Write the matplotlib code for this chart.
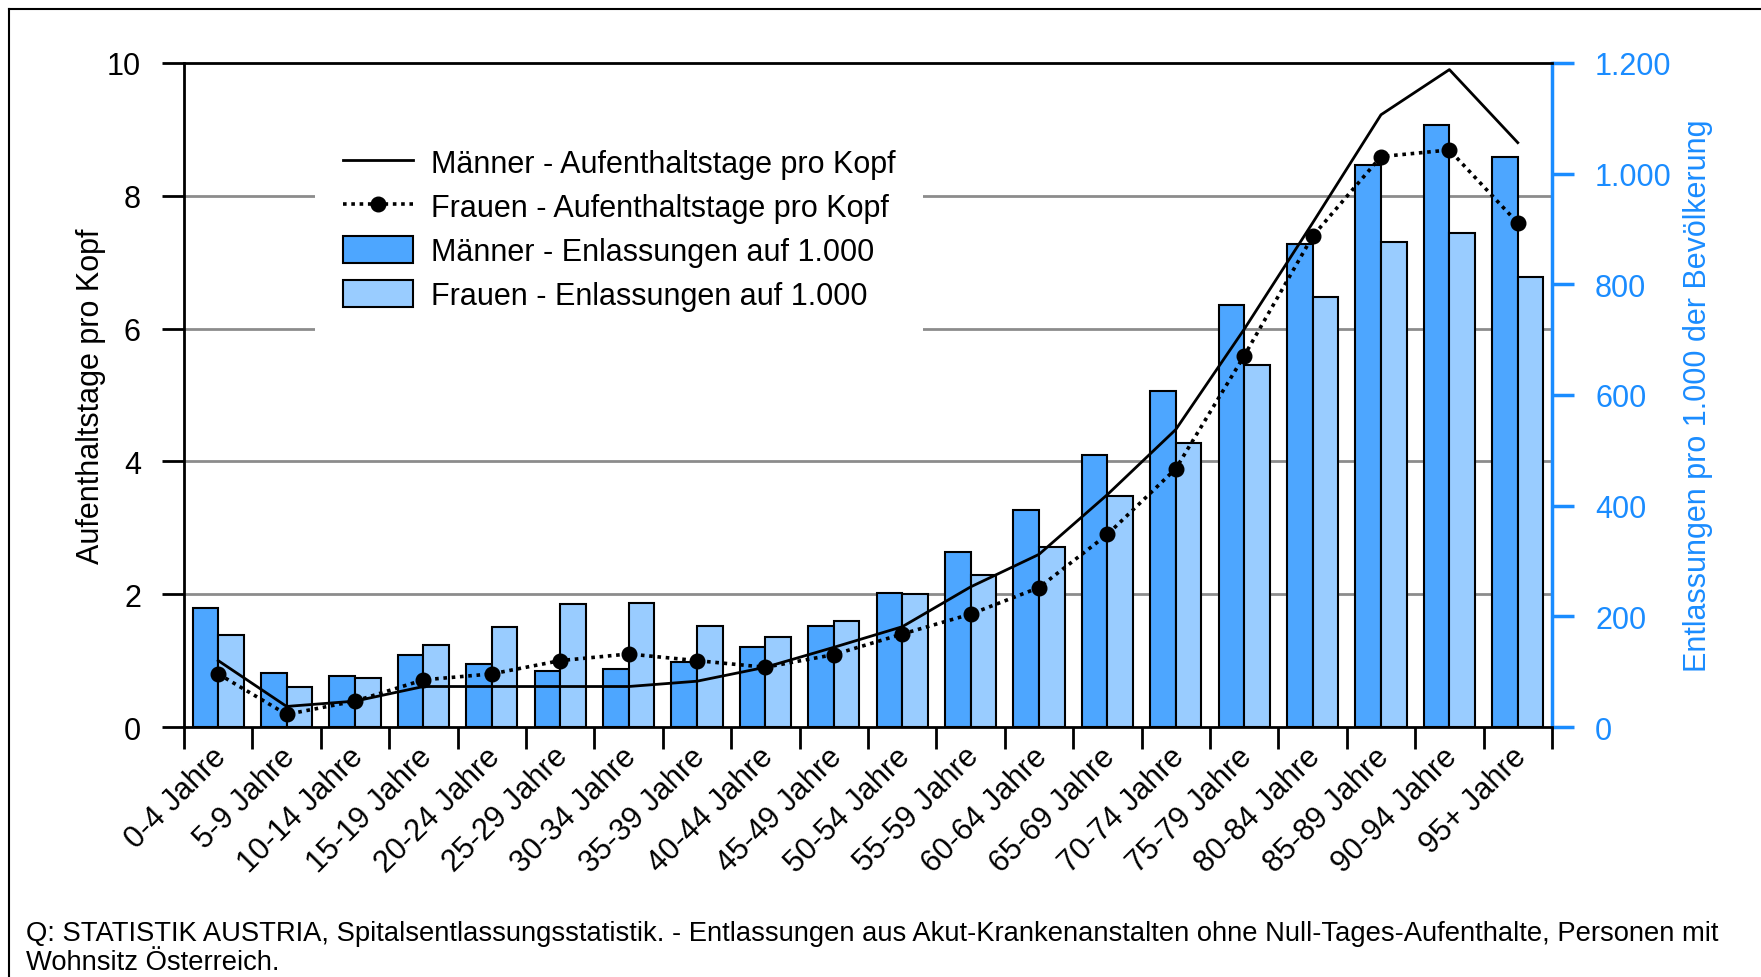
import numpy as np
import matplotlib
matplotlib.use("Agg")
import matplotlib.pyplot as plt
from matplotlib.lines import Line2D
from matplotlib.ticker import FuncFormatter
from matplotlib.transforms import ScaledTranslation

plt.rcParams['font.family'] = ['Liberation Sans', 'DejaVu Sans']

# data
ages = ['0-4 Jahre', '5-9 Jahre', '10-14 Jahre', '15-19 Jahre', '20-24 Jahre',
        '25-29 Jahre', '30-34 Jahre', '35-39 Jahre', '40-44 Jahre', '45-49 Jahre',
        '50-54 Jahre', '55-59 Jahre', '60-64 Jahre', '65-69 Jahre', '70-74 Jahre',
        '75-79 Jahre', '80-84 Jahre', '85-89 Jahre', '90-94 Jahre', '95+ Jahre']
men_rate = [215, 97, 93, 131, 114, 102, 105, 118, 145, 183,
            242, 316, 393, 492, 607, 762, 872, 1015, 1088, 1030]
women_rate = [166, 73, 88, 148, 180, 222, 225, 182, 163, 191,
              240, 274, 325, 418, 514, 655, 777, 877, 892, 814]
men_days = [1.00, 0.31, 0.39, 0.61, 0.61, 0.61, 0.61, 0.69, 0.90, 1.20,
            1.51, 2.11, 2.60, 3.50, 4.48, 5.99, 7.59, 9.22, 9.90, 8.80]
women_days = [0.80, 0.19, 0.39, 0.71, 0.80, 1.00, 1.10, 1.00, 0.90, 1.09,
              1.40, 1.70, 2.10, 2.90, 3.89, 5.59, 7.39, 8.59, 8.69, 7.59]

left_max = 10
right_max = 1200
left_ticks = [0, 2, 4, 6, 8, 10]
right_ticks = [0, 200, 400, 600, 800, 1000, 1200]

blue = '#1a8cff'
men_col = '#4da6ff'
women_col = '#99ccff'
fs = 22

fig = plt.figure(figsize=(17.61, 9.78), dpi=100)
ax = fig.add_axes([0.1045, 0.2556, 0.7768, 0.679])
ax2 = ax.twinx()
ax.set_zorder(ax2.get_zorder() + 1)
ax.patch.set_visible(False)

x = np.arange(len(ages))
w = 0.375

# gridlines behind the bars (drawn on the right axis at the left tick values)
for t in left_ticks[1:-1]:
    ax2.axhline(t * right_max / left_max, color='#8c8c8c', lw=2, zorder=0)

ax2.bar(x - w / 2, men_rate, w, color=men_col, edgecolor='black', lw=1.5,
        zorder=2, label='Männer - Enlassungen auf 1.000')
ax2.bar(x + w / 2, women_rate, w, color=women_col, edgecolor='black', lw=1.5,
        zorder=2, label='Frauen - Enlassungen auf 1.000')

ax.plot(x, men_days, color='black', lw=2, label='Männer - Aufenthaltstage pro Kopf')
ax.plot(x, women_days, color='black', lw=2.6, ls=(0, (1, 1.3)), marker='o',
        ms=10.5, label='Frauen - Aufenthaltstage pro Kopf')

ax.set_xlim(-0.5, len(ages) - 0.5)
ax.set_ylim(0, left_max)
ax2.set_ylim(0, right_max)

ax.set_yticks(left_ticks)
ax2.set_yticks(right_ticks)
ax2.yaxis.set_major_formatter(FuncFormatter(lambda v, p: f'{int(v):,}'.replace(',', '.')))

ax.set_xticks(np.arange(len(ages) + 1) - 0.5)
ax.set_xticklabels([])
ax.set_xticks(x, minor=True)
ax.set_xticklabels(ages, minor=True, rotation=45, ha='right', va='top',
                   rotation_mode='anchor', fontsize=fs)
ax.tick_params(axis='x', which='minor', length=0, pad=8)
ax.tick_params(axis='x', which='major', length=16, width=2, direction='out')
ax.tick_params(axis='y', length=16, width=2, labelsize=fs, pad=15)
ax2.tick_params(axis='y', length=16, width=2.5, labelsize=fs, colors=blue, pad=15)

# nudge the rotated labels a little to the left / down
shift = ScaledTranslation(-7 / 100, -3 / 100, fig.dpi_scale_trans)
for lab in ax.get_xticklabels(minor=True):
    lab.set_transform(lab.get_transform() + shift)

for s in ['left', 'bottom', 'top']:
    ax.spines[s].set_linewidth(2)
ax.spines['right'].set_visible(False)
for s in ['left', 'bottom', 'top']:
    ax2.spines[s].set_visible(False)
ax2.spines['right'].set_color(blue)
ax2.spines['right'].set_linewidth(2.5)

ax.set_ylabel('Aufenthaltstage pro Kopf', fontsize=fs)
ax2.set_ylabel('Entlassungen pro 1.000 der Bevölkerung', fontsize=fs, color=blue)
ax.yaxis.set_label_coords(-0.068, 0.5)
ax.yaxis.label.set_va('center')
ax2.yaxis.set_label_coords(1.107, 0.5)
ax2.yaxis.label.set_va('center')

h1, l1 = ax.get_legend_handles_labels()
h2, l2 = ax2.get_legend_handles_labels()
leg = ax.legend(h1 + h2, l1 + l2, loc='upper left', bbox_to_anchor=(0.0958, 0.9135),
                fontsize=fs, frameon=True, facecolor='white', edgecolor='none',
                framealpha=1, fancybox=False, handlelength=2.3, handleheight=1.0,
                labelspacing=0.42, borderpad=0.9, handletextpad=0.6,
                borderaxespad=0)

fig.text(0.0149, 0.030, 'Q: STATISTIK AUSTRIA, Spitalsentlassungsstatistik. - Entlassungen aus '
         'Akut-Krankenanstalten ohne Null-Tages-Aufenthalte, Personen mit\nWohnsitz Österreich.',
         fontsize=19.7, va='center', linespacing=1.15)

# outer frame (top and left edge)
fig.add_artist(Line2D([0.005, 1], [0.9898, 0.9898], color='black', lw=1.5))
fig.add_artist(Line2D([0.005, 0.005], [0, 0.9898], color='black', lw=1.5))

fig.savefig('out.png', dpi=100)
